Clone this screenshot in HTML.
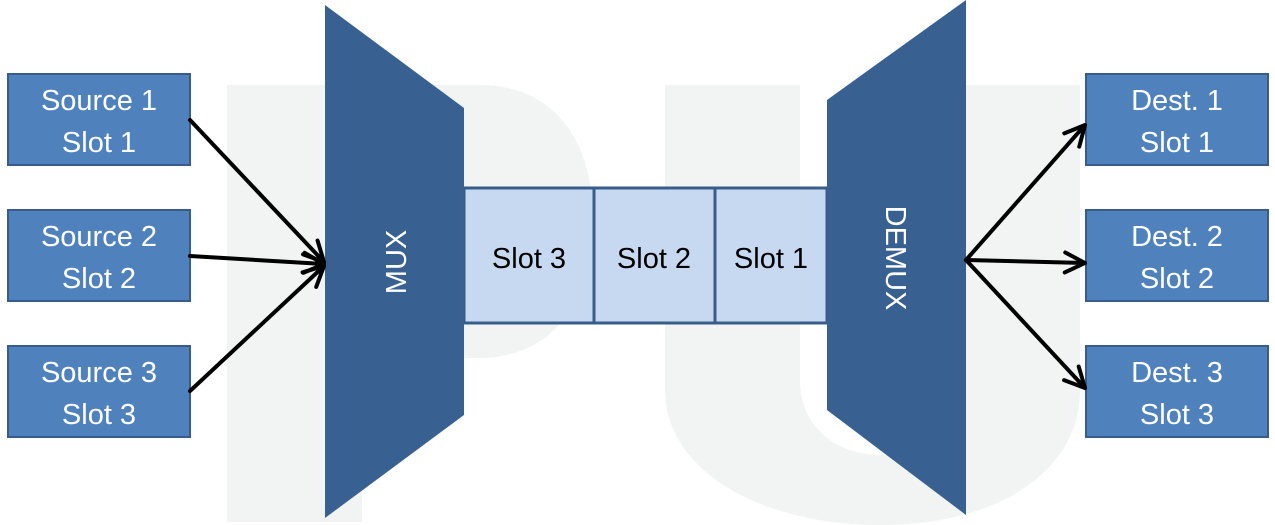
<!DOCTYPE html>
<html><head><meta charset="utf-8"><style>
html,body{margin:0;padding:0;background:#fff;}
svg{display:block;}
text{font-family:"Liberation Sans",sans-serif;}
</style></head><body>
<svg id="s" width="1275" height="525" viewBox="0 0 1275 525">
<g fill="#f2f3f3">
<path d="M227,85 H480 C545,85 593,130 593,220 C593,310 545,358 480,358 H362 V522 H227 Z"/>
<path d="M665,85 H800 V380 C800,430 840,455 880,455 C920,455 960,430 960,380 V85 H1080 V390 C1080,470 1000,525 880,525 C760,525 665,470 665,390 Z"/>
</g>
<g font-size="29" fill="#fff" text-anchor="middle">
<rect x="8" y="74" width="182" height="91" fill="#4f81bd" stroke="#385d8a" stroke-width="2"/>
<text x="99" y="110">Source 1</text>
<text x="99" y="152">Slot  1</text>
<rect x="8" y="210" width="182" height="91" fill="#4f81bd" stroke="#385d8a" stroke-width="2"/>
<text x="99" y="246">Source 2</text>
<text x="99" y="288">Slot 2</text>
<rect x="8" y="346" width="182" height="91" fill="#4f81bd" stroke="#385d8a" stroke-width="2"/>
<text x="99" y="382">Source 3</text>
<text x="99" y="424">Slot 3</text>
</g>
<g font-size="29" fill="#fff" text-anchor="middle">
<rect x="1086" y="74" width="182" height="91" fill="#4f81bd" stroke="#385d8a" stroke-width="2"/>
<text x="1177" y="110">Dest. 1</text>
<text x="1177" y="152">Slot 1</text>
<rect x="1086" y="210" width="182" height="91" fill="#4f81bd" stroke="#385d8a" stroke-width="2"/>
<text x="1177" y="246">Dest. 2</text>
<text x="1177" y="288">Slot 2</text>
<rect x="1086" y="346" width="182" height="91" fill="#4f81bd" stroke="#385d8a" stroke-width="2"/>
<text x="1177" y="382">Dest. 3</text>
<text x="1177" y="424">Slot 3</text>
</g>
<g font-size="29" fill="#000" text-anchor="middle">
<rect x="464" y="188" width="363" height="135" fill="#c6d9f0" stroke="#385d8a" stroke-width="3"/>
<line x1="594" y1="188" x2="594" y2="323" stroke="#385d8a" stroke-width="3"/>
<line x1="715" y1="188" x2="715" y2="323" stroke="#385d8a" stroke-width="3"/>
<text x="529" y="268">Slot 3</text>
<text x="654" y="268">Slot 2</text>
<text x="771" y="268">Slot 1</text>
</g>
<polygon points="325,5 464,108 464,415 325,518" fill="#386090"/>
<text x="0" y="0" font-size="29" fill="#fff" text-anchor="middle" transform="translate(406,262) rotate(-90)">MUX</text>
<polygon points="827,100 966,0 966,515 827,410" fill="#386090"/>
<text x="0" y="0" font-size="29" fill="#fff" text-anchor="middle" transform="translate(886,258) rotate(90)">DEMUX</text>
<g id="arrows" stroke="#000" stroke-width="4" fill="none" stroke-linecap="round" stroke-linejoin="round"></g>
</svg>
<script>
var arrowsFrom=[[190,120],[190,256],[190,391],[966,260],[966,260],[966,260]];
var arrowsTo=[[324,262],[324,264],[324,266],[1085,125],[1085,263],[1085,388]];
var g=document.getElementById('arrows');
for(var i=0;i<arrowsFrom.length;i++){
  var a=arrowsFrom[i],b=arrowsTo[i];
  var dx=b[0]-a[0],dy=b[1]-a[1],L=Math.hypot(dx,dy),ux=dx/L,uy=dy/L;
  var h=20,w=10;
  var bx=b[0]-ux*h,by=b[1]-uy*h;
  var p=document.createElementNS('http://www.w3.org/2000/svg','path');
  p.setAttribute('d','M'+a[0]+','+a[1]+' L'+b[0]+','+b[1]+' M'+(bx-uy*w)+','+(by+ux*w)+' L'+b[0]+','+b[1]+' L'+(bx+uy*w)+','+(by-ux*w));
  
  
  g.appendChild(p);
}
</script>
</body></html>
